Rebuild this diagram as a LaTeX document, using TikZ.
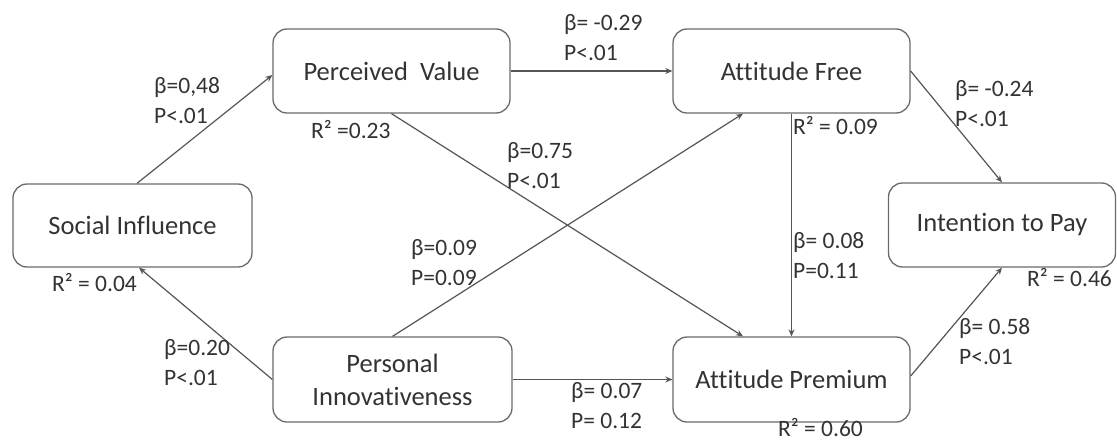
\documentclass[tikz,border=0pt]{standalone}
\usepackage{fontspec}
\setmainfont{Carlito}[Ligatures=NoCommon]
\usetikzlibrary{arrows.meta,calc}
\definecolor{boxline}{HTML}{6A6A6A}
\definecolor{txt}{HTML}{333333}
\definecolor{connc}{HTML}{555555}
\begin{document}
\begin{tikzpicture}[x=1pt,y=-1pt,
  box/.style={draw=boxline, line width=1.3pt, rounded corners=14pt, fill=white, text=txt,
    font=\fontsize{26.5}{33}\selectfont, align=center, inner sep=0pt},
  lbl/.style={anchor=west, inner sep=0pt, text=txt, font=\fontsize{23.5}{30}\selectfont, align=left},
  conn/.style={draw=connc, line width=1.2pt, -{Stealth[length=7pt,width=6pt]}}]
\useasboundingbox[fill=white] (0,0) rectangle (1117,442);

\node[box, minimum width=237pt, minimum height=84pt] (pv) at (391.5,71) {Perceived~~Value};
\node[box, minimum width=237pt, minimum height=84pt] (af) at (791.5,71) {Attitude Free};
\node[box, minimum width=239pt, minimum height=83pt] (si) at (132.5,225.5) {Social Influence};
\node[box, minimum width=227pt, minimum height=84pt] (itp) at (1002,225) {Intention to Pay};
\node[box, minimum width=239pt, minimum height=85pt] (pi) at (392.5,379.5) {Personal\\Innovativeness};
\node[box, minimum width=237pt, minimum height=85pt] (ap) at (791.5,379.5) {Attitude Premium};

\draw[conn] ([xshift=4.5pt]si.north) -- ([yshift=-4pt]pv.west);
\draw[conn] (pv.east) -- (af.west);
\draw[conn] (pv.south) -- ([xshift=-48.5pt]ap.north);
\draw[conn] (pi.north) -- ([xshift=-48.5pt]af.south);
\draw[conn] (pi.west) -- ([xshift=6.5pt]si.south);
\draw[conn] (pi.east) -- (ap.west);
\draw[conn] (af.south) -- (ap.north);
\draw[conn] (af.east) -- (itp.north);
\draw[conn] ([yshift=3.5pt]ap.east) -- (itp.south);

\node[lbl] (l1) at (154,100.5) {β=0,48\\P<.01};
\node[lbl] (l2) at (564,38) {β= -0.29\\P<.01};
\node[lbl] (l3) at (311,130) {R² =0.23};
\node[lbl] (l4) at (507,166) {β=0.75\\P<.01};
\node[lbl] (l5) at (793,126) {R² = 0.09};
\node[lbl] (l6) at (955,104) {β= -0.24\\P<.01};
\node[lbl] (l7) at (52,283) {R² = 0.04};
\node[lbl] (l8) at (411,263) {β=0.09\\P=0.09};
\node[lbl] (l9) at (164,362.5) {β=0.20\\P<.01};
\node[lbl] (l10) at (793,256) {β= 0.08\\P=0.11};
\node[lbl] (l11) at (1027,278) {R² = 0.46};
\node[lbl] (l12) at (959,342) {β= 0.58\\P<.01};
\node[lbl] (l13) at (571,406) {β= 0.07\\P= 0.12};
\node[lbl] (l14) at (778,428) {R² = 0.60};
\end{tikzpicture}
\end{document}
